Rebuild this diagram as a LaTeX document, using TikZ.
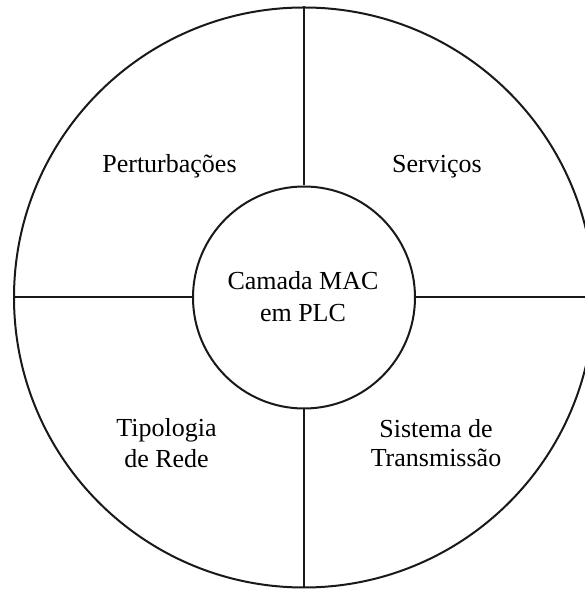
\documentclass[tikz,border=0pt]{standalone}
\usepackage{fontspec}
\setmainfont{Liberation Serif}
\begin{document}
\begin{tikzpicture}[x=1pt,y=1pt,
  ring/.style={draw=black!90,line width=2pt,circle,inner sep=0pt},
  divider/.style={draw=black!90,line width=2pt},
  lbl/.style={align=center,inner sep=0pt,anchor=base}]
  \useasboundingbox (0,0) rectangle (585,589);
  \clip (0,0) rectangle (585,589);
  % outer ring and central hub
  \node[ring,minimum size=580pt] (outer) at (304,291.5) {};
  \node[ring,minimum size=222pt] (hub) at (304,291.5) {};
  \node[lbl,font=\fontsize{26}{32}\selectfont] (hubtxt) at (303,267) {Camada MAC\\em PLC};
  % four dividers between the rings
  \draw[divider] (outer.north) -- (hub.north);
  \draw[divider] (hub.south) -- (outer.south);
  \draw[divider] (outer.west) -- (hub.west);
  \draw[divider] (hub.east) -- (outer.east);
  % quadrant labels
  \node[lbl,font=\fontsize{26}{29}\selectfont] (q1) at (169.5,416) {Perturbações};
  \node[lbl,font=\fontsize{26}{29}\selectfont] (q2) at (437,416) {Serviços};
  \node[lbl,font=\fontsize{26}{31}\selectfont] (q3) at (166.5,121) {Tipologia\\de Rede};
  \node[lbl,font=\fontsize{26}{29}\selectfont] (q4) at (436,122) {Sistema de\\Transmissão};
\end{tikzpicture}
\end{document}
